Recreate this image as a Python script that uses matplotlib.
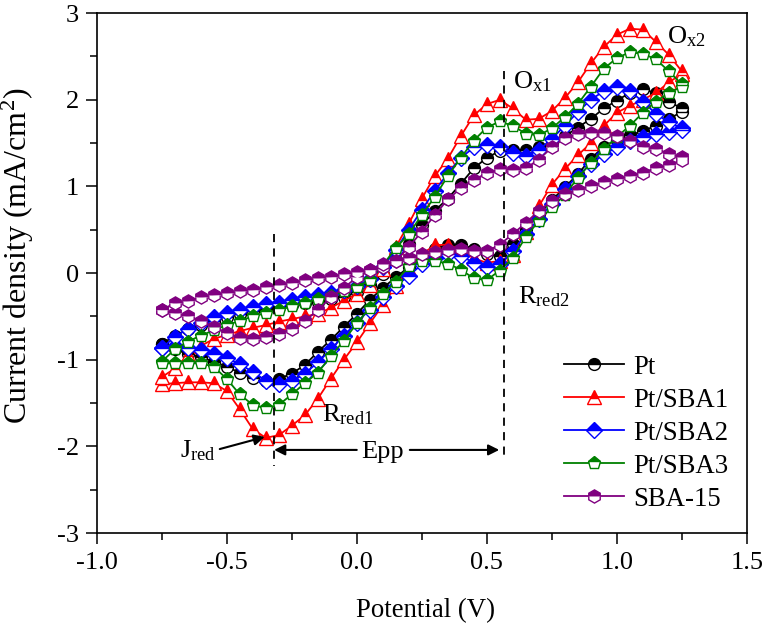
import numpy as np
import matplotlib
matplotlib.use("Agg")
import matplotlib.pyplot as plt
from matplotlib.ticker import MultipleLocator, FormatStrFormatter

plt.rcParams['font.family'] = ['Liberation Serif', 'DejaVu Serif']
plt.rcParams['mathtext.fontset'] = 'custom'
plt.rcParams['mathtext.rm'] = 'Liberation Serif'
plt.rcParams['mathtext.it'] = 'Liberation Serif:italic'
plt.rcParams['axes.unicode_minus'] = False

# potential grid (V), forward sweep
potential = [-0.75, -0.70, -0.65, -0.60, -0.55, -0.50, -0.45, -0.40, -0.35, -0.30,
             -0.25, -0.20, -0.15, -0.10, -0.05, 0.00, 0.05, 0.10, 0.15, 0.20,
             0.25, 0.30, 0.35, 0.40, 0.45, 0.50, 0.55, 0.60, 0.65, 0.70,
             0.75, 0.80, 0.85, 0.90, 0.95, 1.00, 1.05, 1.10, 1.15, 1.20, 1.25]

# current density (mA/cm2): forward sweep (-0.75 -> 1.25), reverse sweep (1.25 -> -0.75)
pt_fwd = [-0.82, -0.72, -0.65, -0.60, -0.55, -0.51, -0.47, -0.44, -0.41, -0.39,
          -0.37, -0.35, -0.33, -0.30, -0.27, -0.22, -0.14, -0.01, 0.15, 0.34,
          0.55, 0.72, 0.86, 1.03, 1.21, 1.33, 1.41, 1.42, 1.42, 1.45,
          1.50, 1.58, 1.68, 1.78, 1.90, 1.99, 2.08, 2.12, 2.08, 1.98, 1.90]
pt_rev = [1.86, 1.78, 1.70, 1.64, 1.59, 1.54, 1.46, 1.32, 1.14, 0.99,
          0.84, 0.68, 0.51, 0.34, 0.20, 0.22, 0.28, 0.33, 0.33, 0.28,
          0.19, 0.07, -0.05, -0.17, -0.31, -0.47, -0.62, -0.77, -0.91, -1.06,
          -1.16, -1.22, -1.25, -1.21, -1.15, -1.08, -1.02, -0.97, -0.93, -0.88, -0.82]

sba1_fwd = [-1.20, -1.10, -0.95, -0.84, -0.76, -0.71, -0.67, -0.63, -0.60, -0.56,
            -0.53, -0.50, -0.47, -0.40, -0.32, -0.24, -0.14, 0.05, 0.30, 0.57,
            0.86, 1.12, 1.32, 1.58, 1.82, 1.95, 2.00, 1.90, 1.77, 1.78,
            1.87, 2.02, 2.20, 2.42, 2.61, 2.75, 2.82, 2.81, 2.67, 2.52, 2.33]
sba1_rev = [2.30, 2.20, 2.08, 2.00, 1.93, 1.85, 1.70, 1.50, 1.36, 1.20,
            1.02, 0.77, 0.48, 0.21, 0.14, 0.12, 0.17, 0.27, 0.33, 0.32,
            0.22, 0.05, -0.15, -0.37, -0.58, -0.80, -1.00, -1.22, -1.45, -1.64,
            -1.76, -1.87, -1.90, -1.80, -1.57, -1.36, -1.27, -1.26, -1.26, -1.27, -1.28]

sba2_fwd = [-0.86, -0.74, -0.64, -0.57, -0.51, -0.46, -0.42, -0.39, -0.36, -0.34,
            -0.31, -0.28, -0.25, -0.23, -0.20, -0.15, -0.07, 0.07, 0.27, 0.50,
            0.73, 0.95, 1.15, 1.33, 1.45, 1.48, 1.45, 1.39, 1.35, 1.42,
            1.55, 1.70, 1.86, 2.00, 2.10, 2.15, 2.10, 1.98, 1.84, 1.74, 1.67]
sba2_rev = [1.65, 1.63, 1.60, 1.57, 1.52, 1.45, 1.37, 1.26, 1.12, 0.97,
            0.80, 0.63, 0.45, 0.25, 0.10, 0.07, 0.12, 0.20, 0.22, 0.18,
            0.10, -0.03, -0.15, -0.28, -0.42, -0.57, -0.72, -0.88, -1.03, -1.16,
            -1.25, -1.28, -1.24, -1.14, -1.05, -0.98, -0.93, -0.89, -0.86, -0.84, -0.86]

sba3_fwd = [-1.02, -0.88, -0.79, -0.72, -0.66, -0.60, -0.55, -0.50, -0.46, -0.43,
            -0.38, -0.34, -0.30, -0.26, -0.21, -0.16, -0.08, 0.09, 0.29, 0.45,
            0.67, 0.88, 1.12, 1.33, 1.53, 1.68, 1.75, 1.70, 1.61, 1.59,
            1.67, 1.80, 1.95, 2.15, 2.36, 2.48, 2.55, 2.53, 2.47, 2.33, 2.18]
sba3_rev = [2.15, 2.08, 1.98, 1.85, 1.70, 1.57, 1.43, 1.27, 1.10, 0.90,
            0.76, 0.60, 0.42, 0.17, 0.03, -0.08, -0.06, 0.04, 0.11, 0.14,
            0.14, 0.08, -0.10, -0.24, -0.40, -0.58, -0.78, -0.96, -1.15, -1.27,
            -1.40, -1.52, -1.56, -1.52, -1.40, -1.22, -1.08, -1.04, -1.04, -1.04, -1.04]

sba15_fwd = [-0.42, -0.35, -0.32, -0.28, -0.25, -0.23, -0.21, -0.19, -0.16, -0.14,
             -0.11, -0.08, -0.06, -0.04, -0.01, 0.01, 0.04, 0.07, 0.14, 0.30,
             0.48, 0.67, 0.85, 0.98, 1.08, 1.15, 1.20, 1.19, 1.21, 1.31,
             1.45, 1.56, 1.60, 1.62, 1.62, 1.58, 1.52, 1.46, 1.43, 1.38, 1.34]
sba15_rev = [1.30, 1.25, 1.21, 1.16, 1.12, 1.09, 1.05, 1.01, 0.96, 0.91,
             0.83, 0.72, 0.58, 0.45, 0.33, 0.25, 0.25, 0.28, 0.27, 0.24,
             0.22, 0.18, 0.14, 0.10, 0.04, -0.05, -0.17, -0.28, -0.43, -0.55,
             -0.64, -0.70, -0.74, -0.76, -0.75, -0.69, -0.62, -0.55, -0.50, -0.46, -0.43]

labels = ['Pt', 'Pt/SBA1', 'Pt/SBA2', 'Pt/SBA3', 'SBA-15']
colors = ['#000000', '#FF0000', '#0000FF', '#008000', '#800080']
markers = ['o', '^', 'D', 'p', 'h']
msizes = [8.5, 10, 8, 9.5, 9.5]
series = [(pt_fwd, pt_rev), (sba1_fwd, sba1_rev), (sba2_fwd, sba2_rev),
          (sba3_fwd, sba3_rev), (sba15_fwd, sba15_rev)]

fig = plt.figure(figsize=(7.62, 6.25), dpi=100)
ax = fig.add_axes([0.127, 0.147, 0.853, 0.832])

x_loop = potential + potential[::-1]
for (fwd, rev), lab, c, m, ms in zip(series, labels, colors, markers, msizes):
    ax.plot(x_loop, fwd + rev, color=c, lw=1.3, marker=m, markersize=ms,
            fillstyle='top', markerfacecolor=c, markerfacecoloralt='white',
            markeredgecolor=c, markeredgewidth=1.0, label=lab)

ax.set_xlim(-1.0, 1.5)
ax.set_ylim(-3, 3)
ax.xaxis.set_major_locator(MultipleLocator(0.5))
ax.xaxis.set_minor_locator(MultipleLocator(0.25))
ax.yaxis.set_major_locator(MultipleLocator(1))
ax.yaxis.set_minor_locator(MultipleLocator(0.5))
ax.xaxis.set_major_formatter(FormatStrFormatter('%.1f'))
ax.yaxis.set_major_formatter(FormatStrFormatter('%d'))
ax.tick_params(which='major', direction='out', length=7.7, width=1.1, labelsize=19,
               top=False, right=False)
ax.tick_params(axis='x', which='major', pad=6)
ax.tick_params(axis='y', which='major', pad=5)
ax.tick_params(which='minor', direction='out', length=4.8, width=1.1, top=False, right=False)
for s in ax.spines.values():
    s.set_linewidth(1.2)

fig.text(425 / 762, 1 - 611 / 625, 'Potential (V)', fontsize=19.3, ha='center', va='center')
fig.text(18 / 762, 1 - 256 / 625, 'Current density (mA/cm$^2$)', fontsize=23,
         rotation=90, ha='center', va='center')

# annotations
ax.plot([-0.32, -0.32], [0.45, -2.23], color='k', lw=1.3, ls=(0, (4.5, 3.5)))
ax.plot([0.565, 0.565], [2.33, -2.17], color='k', lw=1.3, ls=(0, (4.5, 3.5)))
fs = 19
ax.text(0.60, 2.13, r'$\mathrm{O_{x1}}$', fontsize=fs, ha='left', va='baseline')
ax.text(1.192, 2.65, r'$\mathrm{O_{x2}}$', fontsize=fs, ha='left', va='baseline')
ax.text(0.619, -0.35, r'$\mathrm{R_{red2}}$', fontsize=fs, ha='left', va='baseline')
ax.text(-0.135, -1.71, r'$\mathrm{R_{red1}}$', fontsize=fs, ha='left', va='baseline')
ax.text(-0.681, -2.13, r'$\mathrm{J_{red}}$', fontsize=fs, ha='left', va='baseline')
ax.text(0.098, -2.13, 'Epp', fontsize=fs, ha='center', va='baseline')
aprops = dict(arrowstyle='-|>', mutation_scale=16, lw=1.5, color='k', shrinkA=0, shrinkB=0)
ax.annotate('', xy=(-0.318, -2.04), xytext=(0.0, -2.04), arrowprops=aprops)
ax.annotate('', xy=(0.548, -2.04), xytext=(0.204, -2.04), arrowprops=aprops)
ax.annotate('', xy=(-0.354, -1.89), xytext=(-0.527, -2.03), arrowprops=aprops)

leg = ax.legend(loc='lower right', bbox_to_anchor=(1.0, 0.005), frameon=False,
                fontsize=19.3, handlelength=2.24, handletextpad=0.34,
                labelspacing=0.3, borderaxespad=0.3)

fig.savefig('out.png', dpi=100)
